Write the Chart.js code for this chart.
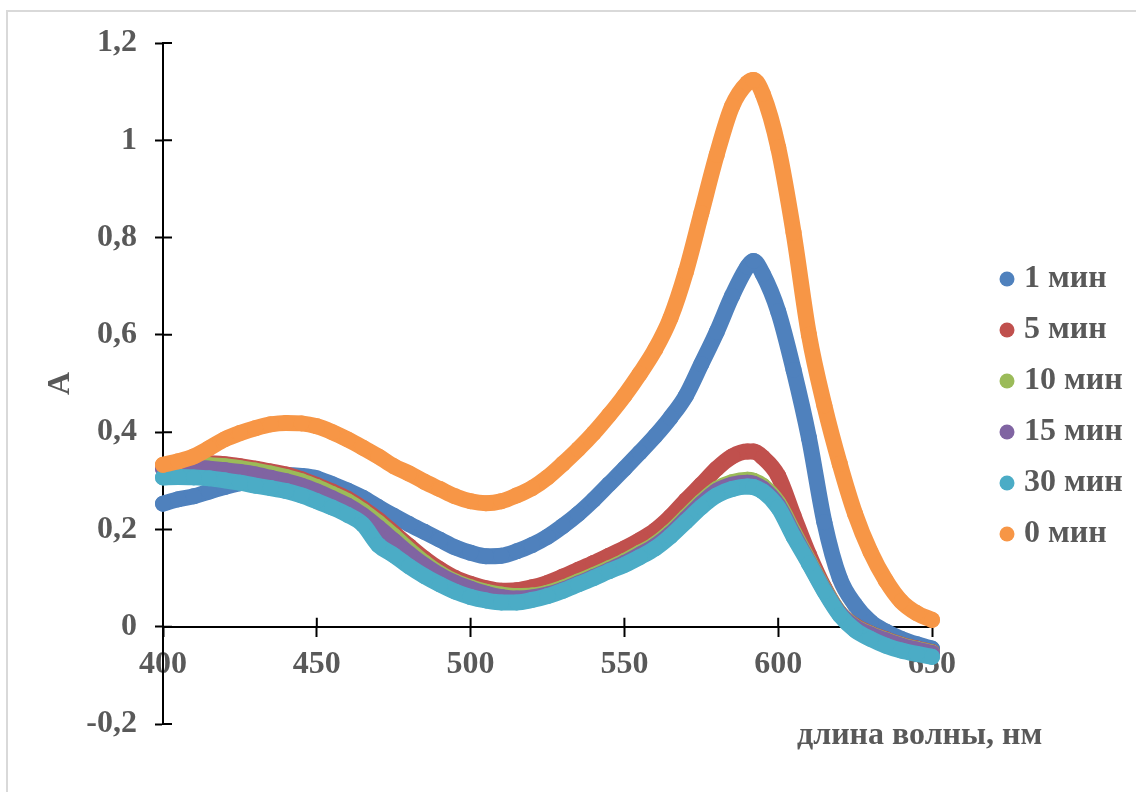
<!DOCTYPE html>
<html lang="ru">

<head>
    <meta charset="UTF-8">
    <title>Спектры поглощения</title>
    <script src="https://cdn.jsdelivr.net/npm/chart.js"></script>
    <style>
        html, body { margin: 0; padding: 0; background: #fff; overflow: hidden; }
        .moldura { position: absolute; left: 6px; top: 10px; width: 1200px; height: 900px;
                   border-left: 2px solid #d9d9d9; border-top: 2px solid #d9d9d9; }
        .grafico { position: absolute; left: 0; top: 0; width: 1136px; height: 792px; }
    </style>
</head>

<body>
    <div class="moldura"></div>
    <div class="grafico">
        <canvas id="myChart"></canvas>
    </div>
</body>

</html>

<script>

    // длина волны, нм
    var wavelengths = [400, 405, 410, 415, 420, 425, 430, 435, 440, 445, 450, 455, 460, 465, 470, 475, 480, 485, 490, 495,
        500, 505, 510, 515, 520, 525, 530, 535, 540, 545, 550, 555, 560, 565, 570, 575, 580, 585, 590, 592,
        595, 600, 605, 610, 615, 620, 625, 630, 635, 640, 645, 650]

    var a1min = [0.253, 0.262, 0.268, 0.278, 0.287, 0.295, 0.302, 0.308, 0.312, 0.310, 0.305, 0.293, 0.280, 0.265, 0.246, 0.228, 0.211, 0.195, 0.179, 0.163,
        0.152, 0.145, 0.146, 0.155, 0.168, 0.185, 0.207, 0.232, 0.261, 0.293, 0.325, 0.358, 0.392, 0.430, 0.475, 0.540, 0.606, 0.680, 0.740, 0.752,
        0.725, 0.648, 0.528, 0.388, 0.215, 0.100, 0.045, 0.010, -0.010, -0.025, -0.036, -0.045]

    var a5min = [0.328, 0.332, 0.335, 0.336, 0.334, 0.330, 0.325, 0.319, 0.313, 0.303, 0.291, 0.278, 0.263, 0.243, 0.220, 0.193, 0.166, 0.140, 0.118, 0.100,
        0.088, 0.079, 0.074, 0.075, 0.081, 0.090, 0.103, 0.117, 0.131, 0.146, 0.161, 0.178, 0.198, 0.226, 0.260, 0.292, 0.325, 0.350, 0.360, 0.360,
        0.348, 0.310, 0.228, 0.148, 0.080, 0.028, 0.002, -0.014, -0.026, -0.037, -0.045, -0.052]

    var a10min = [0.330, 0.333, 0.333, 0.332, 0.330, 0.326, 0.321, 0.315, 0.308, 0.299, 0.287, 0.273, 0.258, 0.238, 0.214, 0.187, 0.158, 0.132, 0.110, 0.093,
        0.081, 0.072, 0.066, 0.063, 0.064, 0.070, 0.080, 0.093, 0.106, 0.120, 0.135, 0.152, 0.170, 0.195, 0.226, 0.257, 0.283, 0.297, 0.302, 0.300,
        0.290, 0.255, 0.195, 0.135, 0.077, 0.028, 0.000, -0.015, -0.027, -0.038, -0.046, -0.053]

    var a15min = [0.325, 0.327, 0.327, 0.325, 0.322, 0.318, 0.313, 0.306, 0.299, 0.290, 0.278, 0.264, 0.249, 0.229, 0.204, 0.177, 0.150, 0.126, 0.106, 0.090,
        0.078, 0.068, 0.061, 0.058, 0.060, 0.066, 0.076, 0.089, 0.102, 0.116, 0.131, 0.148, 0.166, 0.191, 0.222, 0.253, 0.279, 0.292, 0.296, 0.294,
        0.284, 0.250, 0.190, 0.132, 0.075, 0.027, -0.001, -0.016, -0.028, -0.039, -0.047, -0.054]

    var a30min = [0.307, 0.308, 0.307, 0.305, 0.301, 0.296, 0.290, 0.285, 0.279, 0.270, 0.258, 0.245, 0.230, 0.210, 0.168, 0.147, 0.124, 0.104, 0.087, 0.072,
        0.061, 0.054, 0.050, 0.050, 0.055, 0.063, 0.074, 0.087, 0.100, 0.114, 0.127, 0.143, 0.161, 0.186, 0.216, 0.246, 0.270, 0.283, 0.288, 0.287,
        0.278, 0.245, 0.185, 0.130, 0.073, 0.024, -0.007, -0.025, -0.039, -0.049, -0.056, -0.062]

    var a0min = [0.333, 0.340, 0.350, 0.367, 0.385, 0.398, 0.408, 0.416, 0.419, 0.418, 0.412, 0.400, 0.385, 0.368, 0.350, 0.330, 0.315, 0.298, 0.283, 0.268,
        0.258, 0.254, 0.258, 0.270, 0.285, 0.307, 0.335, 0.365, 0.398, 0.435, 0.475, 0.520, 0.570, 0.635, 0.730, 0.850, 0.970, 1.070, 1.118, 1.124,
        1.095, 0.985, 0.810, 0.600, 0.455, 0.335, 0.232, 0.154, 0.095, 0.052, 0.028, 0.014]

    var seriesLabels = ['1 мин', '5 мин', '10 мин', '15 мин', '30 мин', '0 мин']
    var seriesColors = ['#4F81BD', '#C0504D', '#9BBB59', '#8064A2', '#4BACC6', '#F79646']
    var xTickLabels = ['400', '450', '500', '550', '600', '650']
    var yTickLabels = ['-0,2', '0', '0,2', '0,4', '0,6', '0,8', '1', '1,2']

    var fonte = "'Liberation Serif', 'Times New Roman', serif"
    var cinza = '#595959'

    function pontos(ys) {
        return wavelengths.map((x, i) => ({ x: x, y: ys[i] }))
    }

    var series = [a1min, a5min, a10min, a15min, a30min, a0min]

    // excel desenha a ultima serie por cima
    var datasets = series.map((ys, i) => ({
        label: seriesLabels[i],
        data: pontos(ys),
        showLine: true,
        borderColor: seriesColors[i],
        backgroundColor: seriesColors[i],
        borderWidth: 16,
        borderCapStyle: 'round',
        borderJoinStyle: 'round',
        cubicInterpolationMode: 'monotone',
        pointRadius: 8,
        pointHoverRadius: 8,
        pointBorderWidth: 0,
        pointBackgroundColor: seriesColors[i],
        clip: false,
        order: series.length - 1 - i
    }))

    // tracinhos cruzando o eixo (lado de dentro)
    const tracosCruzados = {
        id: 'tracosCruzados',
        beforeDatasetsDraw(chart) {
            const c = chart.ctx
            const x = chart.scales.x
            const y = chart.scales.y
            const y0 = y.getPixelForValue(0)
            const x0 = x.getPixelForValue(400)
            c.save()
            c.strokeStyle = '#000'
            c.lineWidth = 2
            c.beginPath()
            x.ticks.forEach(t => {
                const px = x.getPixelForValue(t.value)
                c.moveTo(px, y0)
                c.lineTo(px, y0 - 9)
            })
            y.ticks.forEach(t => {
                const py = y.getPixelForValue(t.value)
                c.moveTo(x0, py)
                c.lineTo(x0 + 9, py)
            })
            c.stroke()
            c.restore()
        }
    }

    // legenda um pouco mais para a direita e para baixo
    const moveLegenda = {
        id: 'moveLegenda',
        afterLayout(chart) {
            const l = chart.legend
            l.left += 55
            l.right = chart.width
            l.top += 23
            l.bottom += 23
        }
    }

    // titulo do eixo x
    const tituloX = {
        id: 'tituloX',
        afterDraw(chart) {
            const c = chart.ctx
            c.save()
            c.font = 'bold 32px ' + fonte
            c.fillStyle = cinza
            c.textAlign = 'left'
            c.textBaseline = 'alphabetic'
            c.fillText('длина волны, нм', 797, 744)
            c.restore()
        }
    }

    const ctx = document.getElementById('myChart');

    new Chart(ctx, {
        type: 'scatter',
        data: { datasets: datasets },
        plugins: [tracosCruzados, moveLegenda, tituloX],
        options: {
            responsive: true,
            maintainAspectRatio: false,
            animation: false,
            layout: { padding: { left: 0, top: 43, right: 84, bottom: 68 } },
            plugins: {
                tooltip: { enabled: false },
                legend: {
                    position: 'right',
                    maxWidth: 120,
                    reverse: true,
                    labels: {
                        usePointStyle: true,
                        pointStyle: 'circle',
                        boxWidth: 2,
                        boxHeight: 10.6,
                        padding: 19,
                        color: cinza,
                        font: { family: fonte, size: 32, weight: 'bold' }
                    }
                }
            },
            scales: {
                x: {
                    type: 'linear',
                    position: { y: 0 },
                    min: 400,
                    max: 650,
                    afterFit: (s) => { s.height = 0 },
                    ticks: {
                        stepSize: 50,
                        padding: 10,
                        maxRotation: 0,
                        color: cinza,
                        font: { family: fonte, size: 32, weight: 'bold' },
                        callback: (v, i) => xTickLabels[i]
                    },
                    grid: { drawOnChartArea: false, drawTicks: true, tickLength: 9, tickWidth: 2, tickColor: '#000' },
                    border: { color: '#000', width: 2 }
                },
                y: {
                    type: 'linear',
                    position: 'left',
                    min: -0.2,
                    max: 1.2,
                    afterFit: (s) => { s.width = 163 },
                    ticks: {
                        stepSize: 0.2,
                        padding: 18,
                        color: cinza,
                        font: { family: fonte, size: 32, weight: 'bold' },
                        callback: (v, i) => yTickLabels[i]
                    },
                    grid: { drawOnChartArea: false, drawTicks: true, tickLength: 8, tickWidth: 2, tickColor: '#000' },
                    border: { color: '#000', width: 2 },
                    title: {
                        display: true,
                        text: 'A',
                        color: cinza,
                        padding: { top: 42, bottom: 0 },
                        font: { family: fonte, size: 32, weight: 'bold' }
                    }
                }
            }
        }
    });

</script>
